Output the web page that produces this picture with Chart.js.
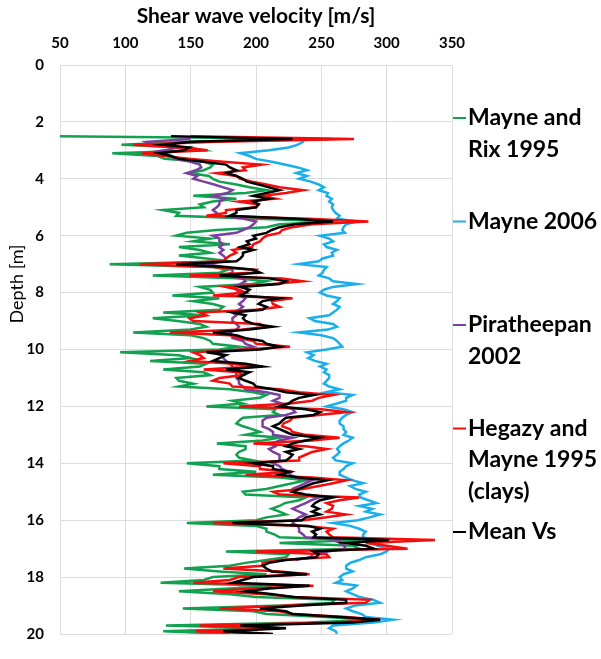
<!DOCTYPE html>
<html>
<head>
<meta charset="utf-8">
<script src="https://cdn.jsdelivr.net/npm/chart.js@4/dist/chart.umd.min.js"></script>
<style>
  html, body { margin: 0; padding: 0; background: #fff; }
  #wrap { width: 601px; height: 659px; }
</style>
</head>
<body>
<div id="wrap"><canvas id="vsChart" width="601" height="659"></canvas></div>
<script>
// depth of each reading (m)
const depth = [
  2.5,2.6,2.7,2.8,2.9,3.0,3.1,3.2,3.3,3.4,3.5,3.6,3.7,3.8,3.9,4.0,4.1,4.2,4.3,4.4,
  4.5,4.6,4.7,4.8,4.9,5.0,5.1,5.2,5.3,5.4,5.5,5.6,5.7,5.8,5.9,6.0,6.1,6.2,6.3,6.4,
  6.5,6.6,6.7,6.8,6.9,7.0,7.1,7.2,7.3,7.4,7.5,7.6,7.7,7.8,7.9,8.0,8.1,8.2,8.3,8.4,
  8.5,8.6,8.7,8.8,8.9,9.0,9.1,9.2,9.3,9.4,9.5,9.6,9.7,9.8,9.9,10.0,10.1,10.2,10.3,10.4,
  10.5,10.6,10.7,10.8,10.9,11.0,11.1,11.2,11.3,11.4,11.5,11.6,11.7,11.8,11.9,12.0,12.1,12.2,12.3,12.4,
  12.5,12.6,12.7,12.8,12.9,13.0,13.1,13.2,13.3,13.4,13.5,13.6,13.7,13.8,13.9,14.0,14.1,14.2,14.3,14.4,
  14.5,14.6,14.7,14.8,14.9,15.0,15.1,15.2,15.3,15.4,15.5,15.6,15.7,15.8,15.9,16.0,16.1,16.2,16.3,16.4,
  16.5,16.6,16.7,16.8,16.9,17.0,17.1,17.2,17.3,17.4,17.5,17.6,17.7,17.8,17.9,18.0,18.1,18.2,18.3,18.4,
  18.5,18.6,18.7,18.8,18.9,19.0,19.1,19.2,19.3,19.4,19.5,19.6,19.7,19.8,19.9,20.0
];

// shear wave velocity (m/s) per correlation
const mayneRix1995 = [
  45,258,150,97,150,160,90,125,130,160,167,165,160,149,164,167,172,185,195,208,
  192,152,185,167,157,160,129,141,139,200,262,218,208,170,147,139,165,152,180,141,
  157,165,141,162,180,88,167,178,172,121,185,208,197,157,165,167,136,172,152,167,
  175,172,129,160,121,140,157,162,150,106,150,160,165,167,187,172,96,141,150,119,
  162,157,129,160,165,139,141,152,141,180,198,208,203,182,190,162,215,213,218,190,
  187,185,190,197,203,192,218,205,170,192,192,187,185,187,198,147,172,172,200,167,
  218,238,228,218,208,190,192,238,233,222,218,212,218,223,208,200,147,200,208,208,
  214,218,280,218,275,279,177,225,223,208,192,180,145,172,208,167,160,127,213,180,
  141,180,200,260,258,220,144,198,208,253,289,240,131,208,129,180
];
const mayne2006 = [
  null,235,236,232,225,210,188,195,200,212,222,232,239,231,239,233,242,248,252,248,
  255,254,258,256,259,258,259,261,264,262,277,269,267,266,268,249,256,259,252,254,
  262,258,259,251,248,233,254,252,251,248,256,259,277,259,252,249,254,264,262,259,
  264,262,259,256,241,245,259,262,255,233,250,259,262,264,266,254,239,244,240,245,
  254,249,254,252,256,256,254,252,256,264,254,274,269,269,262,254,267,274,269,266,
  264,264,267,267,269,267,274,271,267,264,262,264,262,259,261,274,269,267,264,264,
  269,274,282,272,276,284,279,280,286,292,279,289,284,295,287,278,259,272,279,284,
  282,282,287,290,293,302,300,295,284,279,272,269,269,274,267,264,266,261,277,274,
  269,274,279,290,295,276,269,274,281,284,305,290,259,256,261,262
];
const piratheepan2002 = [
  null,150,116,121,140,130,116,135,138,150,157,158,154,147,155,152,160,168,175,182,
  178,167,176,172,172,170,167,170,172,190,200,198,195,190,185,167,172,172,175,172,
  175,172,175,177,175,162,175,182,182,175,190,192,188,182,185,187,187,192,190,187,
  190,187,182,185,182,182,185,187,185,180,182,182,190,192,198,187,167,175,175,177,
  180,182,182,185,185,185,187,187,190,192,208,218,218,213,220,223,228,230,223,208,
  205,205,205,210,213,213,228,218,213,215,210,213,218,218,218,213,218,220,225,226,
  230,243,238,233,228,228,233,248,242,238,233,228,233,238,233,230,228,232,233,233,
  236,238,264,264,268,268,255,243,242,230
];
const hegazyMayne1995 = [
  150,275,170,106,141,163,113,130,150,175,204,190,192,170,185,188,197,208,218,236,
  223,205,215,187,202,200,177,177,162,240,286,243,228,220,218,208,205,203,198,197,
  182,185,180,177,175,111,167,200,197,149,220,236,213,177,187,192,167,228,212,213,
  218,200,157,162,149,152,203,208,190,134,180,187,198,200,226,192,152,157,160,150,
  182,198,160,187,190,172,167,180,182,218,233,259,248,243,226,187,250,269,248,228,
  226,221,220,226,228,238,264,243,198,238,254,243,238,233,233,175,203,203,228,192,
  243,269,259,248,236,213,218,279,264,254,259,258,254,269,254,236,167,238,259,254,
  256,259,337,284,300,316,200,254,256,218,205,205,175,218,241,187,180,152,244,198,
  167,208,230,287,284,225,172,218,228,269,295,262,157,218,154,210
];
const meanVs = [
  135,228,150,129,149,145,126,135,141,160,177,180,185,178,185,190,193,202,210,218,
  208,198,210,198,202,200,185,185,180,230,259,230,218,212,208,198,200,193,195,188,
  198,190,190,188,185,139,177,198,203,172,210,223,218,188,195,192,188,218,205,202,
  208,205,182,192,190,192,198,213,195,167,185,192,205,208,218,203,162,177,172,167,
  192,205,177,195,190,187,192,198,200,213,223,244,233,228,225,218,238,249,244,223,
  220,218,213,218,223,228,249,238,228,223,233,223,228,226,223,198,213,213,226,218,
  233,254,244,238,233,228,238,259,249,245,243,248,243,249,238,235,182,240,249,243,
  246,244,302,269,284,290,244,248,246,223,210,205,208,212,239,198,190,182,241,210,
  192,213,228,269,269,235,203,223,228,264,295,274,188,223,175,213
];

const seriesNames = ["Mayne and Rix 1995", "Mayne 2006", "Piratheepan 2002", "Hegazy and Mayne 1995 (clays)", "Mean Vs"];
const seriesValues = [mayneRix1995, mayne2006, piratheepan2002, hegazyMayne1995, meanVs];
const seriesColors = ["#12A150", "#1AAFEA", "#7B3FA0", "#F50D0D", "#000000"];
const legendLines = [["Mayne and", "Rix 1995"], ["Mayne 2006"], ["Piratheepan", "2002"], ["Hegazy and", "Mayne 1995", "(clays)"], ["Mean Vs"]];

const xTicks = [50, 100, 150, 200, 250, 300, 350];
const yTicks = [0, 2, 4, 6, 8, 10, 12, 14, 16, 18, 20];

const FONT = "Lato, 'Open Sans', sans-serif";

const datasets = seriesValues.map((vals, i) => ({
  label: seriesNames[i],
  data: vals.map((v, j) => ({ x: v, y: depth[j] })),
  borderColor: seriesColors[i],
  backgroundColor: seriesColors[i],
  borderWidth: 2.5,
  pointRadius: 0,
  showLine: true,
  tension: 0,
  order: seriesValues.length - i
}));

// right hand legend + depth title, drawn like the Excel original
const sideLegend = {
  id: "sideLegend",
  afterDraw(chart) {
    const ctx = chart.ctx;
    const area = chart.chartArea;
    ctx.save();
    const x0 = area.right + 1;
    legendLines.forEach((lines, i) => {
      const y = 118 + i * 103.5;
      ctx.strokeStyle = seriesColors[i];
      ctx.lineWidth = 2;
      ctx.beginPath();
      ctx.moveTo(x0, y);
      ctx.lineTo(x0 + 13, y);
      ctx.stroke();
      ctx.fillStyle = "#000";
      ctx.font = "bold 23px " + FONT;
      ctx.textBaseline = "middle";
      ctx.textAlign = "left";
      lines.forEach((t, k) => ctx.fillText(t, x0 + 15, y + k * 31.5));
    });

    ctx.translate(17, 284);
    ctx.rotate(-Math.PI / 2);
    ctx.font = "18px " + FONT;
    ctx.textAlign = "center";
    ctx.textBaseline = "middle";
    ctx.fillText("Depth [m]", 0, 0);
    ctx.restore();
  }
};

new Chart(document.getElementById("vsChart"), {
  type: "scatter",
  data: { datasets },
  options: {
    responsive: false,
    animation: false,
    layout: { padding: { top: 0, left: 0, right: 149, bottom: 6 } },
    plugins: {
      legend: { display: false },
      tooltip: { enabled: false }
    },
    scales: {
      x: {
        type: "linear",
        position: "top",
        min: xTicks[0],
        max: xTicks[xTicks.length - 1],
        afterBuildTicks: s => { s.ticks = xTicks.map(v => ({ value: v })); },
        afterFit: s => { s.height = 65; },
        ticks: { color: "#000", padding: 13, font: { family: FONT, size: 15, weight: "bold" } },
        grid: { color: "#dcdcdc", drawTicks: false },
        border: { display: false },
        title: {
          display: true,
          text: "Shear wave velocity [m/s]",
          color: "#000",
          font: { family: FONT, size: 21, weight: "bold" },
          padding: { top: 4, bottom: 0 }
        }
      },
      y: {
        type: "linear",
        reverse: true,
        min: yTicks[0],
        max: yTicks[yTicks.length - 1],
        afterBuildTicks: s => { s.ticks = yTicks.map(v => ({ value: v })); },
        afterFit: s => { s.width = 60; },
        ticks: { color: "#000", padding: 16, font: { family: FONT, size: 15, weight: "bold" } },
        grid: { color: "#dcdcdc", drawTicks: false },
        border: { display: false }
      }
    }
  },
  plugins: [sideLegend]
});
</script>
</body>
</html>
